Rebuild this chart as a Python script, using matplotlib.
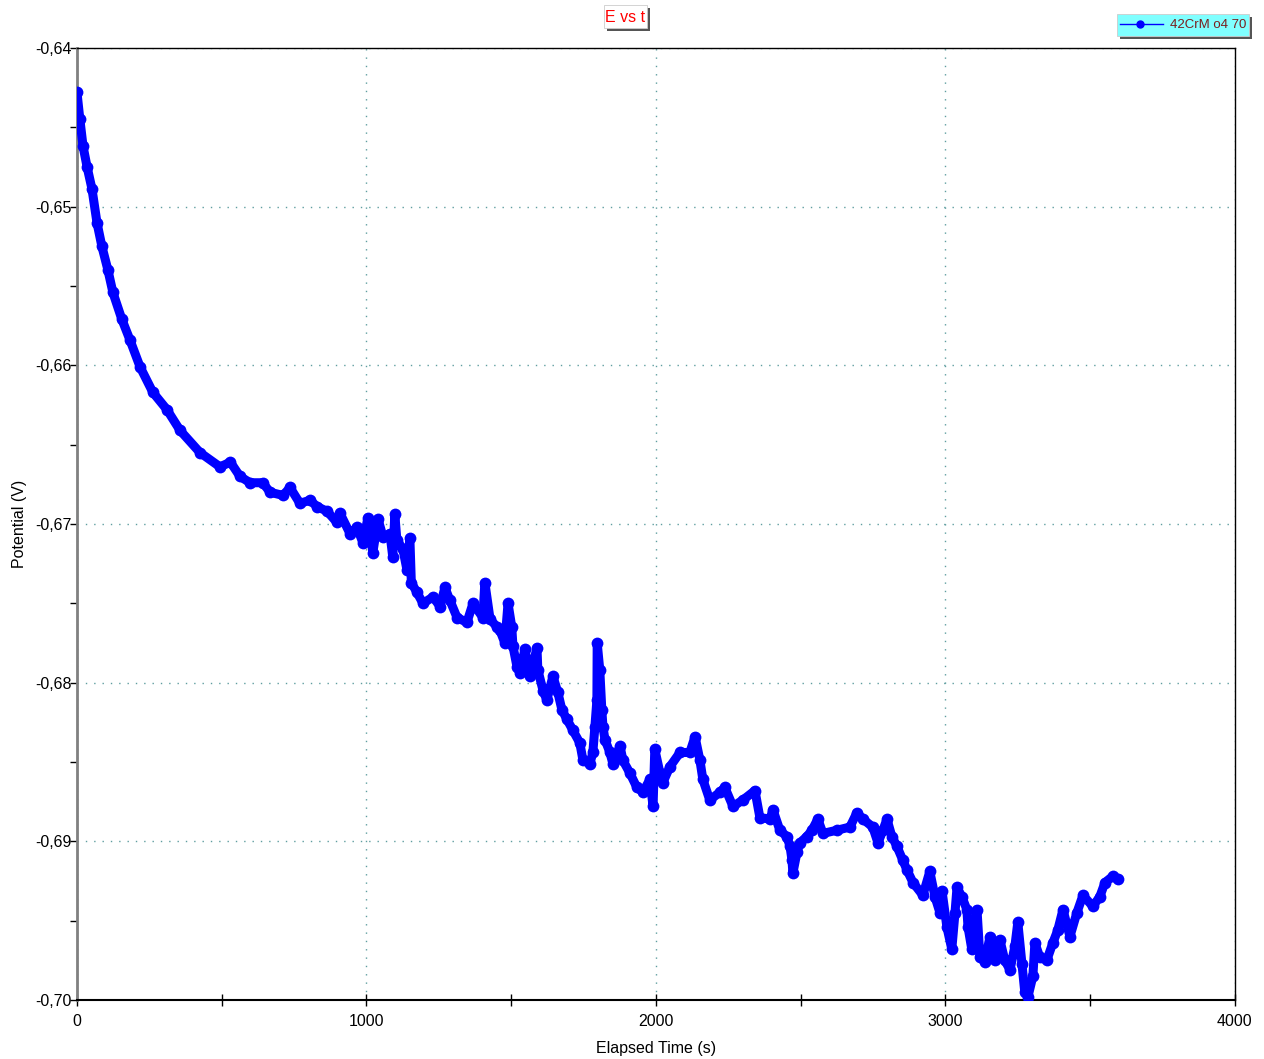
import matplotlib

matplotlib.use("Agg")
import matplotlib.pyplot as plt
from matplotlib.lines import Line2D
from matplotlib.patches import Rectangle
from matplotlib.ticker import FuncFormatter, MultipleLocator

plt.rcParams["font.family"] = ["Liberation Sans", "DejaVu Sans"]

# open-circuit potential trace
time_s = [
    0, 10, 21, 35, 52, 69, 86, 107, 124, 155, 183, 218, 262, 311, 356, 425,
    494, 530, 563, 598, 642, 667, 712, 736, 770, 805, 829, 864, 898, 908,
    943, 967, 988, 1005, 1022, 1040, 1057, 1081, 1091, 1098, 1105, 1126,
    1140, 1150, 1155, 1174, 1195, 1230, 1254, 1271, 1288, 1313, 1347, 1368,
    1402, 1409, 1427, 1451, 1461, 1478, 1489, 1502, 1506, 1520, 1530, 1547,
    1565, 1589, 1592, 1610, 1623, 1644, 1661, 1675, 1692, 1713, 1737, 1748,
    1772, 1782, 1789, 1796, 1797, 1806, 1813, 1817, 1824, 1841, 1851, 1876,
    1886, 1910, 1934, 1955, 1979, 1990, 1996, 2014, 2024, 2048, 2083, 2117,
    2135, 2152, 2162, 2186, 2221, 2238, 2266, 2300, 2342, 2359, 2394, 2404,
    2428, 2452, 2463, 2470, 2473, 2487, 2497, 2521, 2539, 2559, 2577, 2625,
    2670, 2694, 2715, 2749, 2767, 2784, 2798, 2815, 2832, 2853, 2867, 2888,
    2922, 2946, 2964, 2981, 2988, 3005, 3022, 3033, 3040, 3057, 3074, 3078,
    3091, 3109, 3119, 3136, 3154, 3171, 3188, 3205, 3223, 3240, 3250, 3264,
    3274, 3285, 3302, 3309, 3326, 3350, 3371, 3388, 3406, 3430, 3454, 3475,
    3509, 3533, 3551, 3578, 3596,
]
potential_v = [
    -0.6428, -0.6445, -0.6462, -0.6475, -0.6489, -0.6510, -0.6525, -0.6540,
    -0.6554, -0.6571, -0.6584, -0.6601, -0.6617, -0.6628, -0.6641, -0.6655,
    -0.6664, -0.6661, -0.6670, -0.6674, -0.6674, -0.6680, -0.6682, -0.6677,
    -0.6687, -0.6685, -0.6689, -0.6692, -0.6699, -0.6693, -0.6706, -0.6702,
    -0.6712, -0.6696, -0.6718, -0.6697, -0.6708, -0.6706, -0.6721, -0.6694,
    -0.6710, -0.6716, -0.6729, -0.6709, -0.6737, -0.6743, -0.6750, -0.6746,
    -0.6752, -0.6740, -0.6748, -0.6759, -0.6762, -0.6750, -0.6759, -0.6737,
    -0.6760, -0.6765, -0.6767, -0.6775, -0.6750, -0.6765, -0.6777, -0.6790,
    -0.6794, -0.6779, -0.6796, -0.6778, -0.6792, -0.6805, -0.6811, -0.6796,
    -0.6806, -0.6817, -0.6823, -0.6830, -0.6838, -0.6849, -0.6851, -0.6844,
    -0.6828, -0.6811, -0.6775, -0.6792, -0.6817, -0.6828, -0.6836, -0.6844,
    -0.6851, -0.6840, -0.6849, -0.6857, -0.6866, -0.6869, -0.6861, -0.6878,
    -0.6842, -0.6857, -0.6863, -0.6853, -0.6844, -0.6844, -0.6834, -0.6849,
    -0.6861, -0.6874, -0.6869, -0.6866, -0.6878, -0.6874, -0.6868, -0.6885,
    -0.6886, -0.6880, -0.6893, -0.6897, -0.6903, -0.6912, -0.6920, -0.6907,
    -0.6901, -0.6897, -0.6893, -0.6886, -0.6895, -0.6893, -0.6891, -0.6882,
    -0.6886, -0.6891, -0.6901, -0.6893, -0.6886, -0.6897, -0.6903, -0.6912,
    -0.6918, -0.6926, -0.6934, -0.6919, -0.6935, -0.6945, -0.6931, -0.6954,
    -0.6968, -0.6945, -0.6929, -0.6935, -0.6943, -0.6954, -0.6968, -0.6943,
    -0.6973, -0.6976, -0.6960, -0.6975, -0.6962, -0.6975, -0.6981, -0.6966,
    -0.6951, -0.6977, -0.6995, -0.6998, -0.6985, -0.6964, -0.6973, -0.6975,
    -0.6964, -0.6956, -0.6943, -0.6960, -0.6945, -0.6934, -0.6941, -0.6935,
    -0.6926, -0.6922, -0.6924,
]

BLUE = "#0000ff"
GRID = "#5f9ea0"

fig = plt.figure(figsize=(12.64, 10.59), dpi=100)
ax = fig.add_axes([0.0609, 0.0557, 0.9161, 0.899])

ax.plot(time_s, potential_v, color=BLUE, linewidth=6.5, solid_joinstyle="round",
        solid_capstyle="round", marker="o", markersize=8.5, markeredgewidth=0,
        zorder=3)

ax.set_xlim(0, 4000)
ax.set_ylim(-0.70, -0.64)
ax.xaxis.set_major_locator(MultipleLocator(1000))
ax.xaxis.set_minor_locator(MultipleLocator(500))
ax.yaxis.set_major_locator(MultipleLocator(0.01))
ax.yaxis.set_minor_locator(MultipleLocator(0.005))
ax.yaxis.set_major_formatter(FuncFormatter(lambda v, p: f"{v:.2f}".replace(".", ",")))

ax.grid(True, which="major", linestyle=(0, (1, 5)), color=GRID, linewidth=1)
ax.tick_params(which="both", labelsize=11.5, colors="black", width=1)
ax.tick_params(axis="x", which="both", direction="inout", length=8, pad=6)
ax.tick_params(axis="y", which="both", direction="out", length=5, pad=-1)

ax.spines["left"].set_color("#808080")
ax.spines["left"].set_linewidth(2)
ax.spines["bottom"].set_linewidth(1.5)
ax.spines["top"].set_linewidth(1)
ax.spines["right"].set_linewidth(1)

ax.set_xlabel("Elapsed Time (s)", fontsize=11.5, labelpad=9)
ax.set_ylabel("Potential (V)", fontsize=11.5, labelpad=6)


def px(x, y):
    # figure-pixel position to figure fraction (origin top-left)
    return x / 1264, 1 - y / 1059


def boxed(x0, y0, x1, y1, face):
    w, h = (x1 - x0) / 1264, (y1 - y0) / 1059
    sx, sy = px(x0 + 3, y1 + 3)
    fig.patches.append(Rectangle((sx, sy), w, h, transform=fig.transFigure,
                                 facecolor="#555555", edgecolor="none", zorder=5))
    bx, by = px(x0, y1)
    fig.patches.append(Rectangle((bx, by), w, h, transform=fig.transFigure,
                                 facecolor=face, edgecolor="#cccccc",
                                 linewidth=0.6, zorder=6))


# title box
boxed(604, 5, 647, 28, "white")
fig.text(*px(625.5, 17), "E vs t", color="red", fontsize=11.5,
         ha="center", va="center", zorder=7)

# legend box
boxed(1117, 14, 1249, 36, "#80ffff")
(lx0, ly), (lx1, _) = px(1120, 24), px(1163, 24)
fig.lines.append(Line2D([lx0, lx1], [ly, ly], transform=fig.transFigure,
                        color=BLUE, linewidth=1, zorder=7))
fig.lines.append(Line2D([px(1140, 24)[0]], [ly], transform=fig.transFigure,
                        color=BLUE, marker="o", markersize=5, zorder=7))
fig.text(*px(1246, 25), "42CrM o4 70", color="#7a1f1f", fontsize=9.5,
         ha="right", va="center", zorder=7)

fig.savefig("out.png", dpi=100, facecolor="white")
